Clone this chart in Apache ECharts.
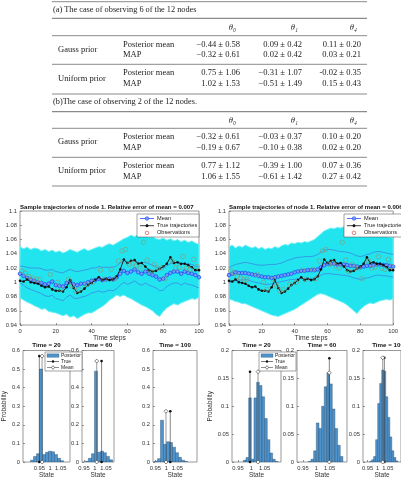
<!DOCTYPE html>
<html><head><meta charset="utf-8">
<script src="https://cdn.jsdelivr.net/npm/echarts@6/dist/echarts.min.js"></script>
<style>html,body{margin:0;padding:0;background:#fff}#c{width:401px;height:480px}</style>
</head><body><div id="c"></div>
<script>
// ---------- table data ----------
const tableA_caption = "(a) The case of observing 6 of the 12 nodes";
const tableB_caption = "(b)The case of observing 2 of the 12 nodes.";
const paramHeaders = ["θ₀", "θ₁", "θ₄"];
const priorNames = ["Gauss prior", "Uniform prior"];
const rowNames = ["Posterior mean", "MAP"];
const tableA_values = [
  ["−0.44 ± 0.58", "0.09 ± 0.42", "0.11 ± 0.20"],
  ["−0.32 ± 0.61", "0.02 ± 0.42", "0.03 ± 0.21"],
  ["0.75 ± 1.06", "−0.31 ± 1.07", "-0.02 ± 0.35"],
  ["1.02 ± 1.53", "−0.51 ± 1.49", "0.15 ± 0.43"]
];
const tableB_values = [
  ["−0.32 ± 0.61", "−0.03 ± 0.37", "0.10 ± 0.20"],
  ["−0.19 ± 0.67", "−0.10 ± 0.38", "0.02 ± 0.20"],
  ["0.77 ± 1.12", "−0.39 ± 1.00", "0.07 ± 0.36"],
  ["1.06 ± 1.55", "−0.61 ± 1.42", "0.27 ± 0.42"]
];

// ---------- trajectory data (time steps 0..100, step 2) ----------
const timeSteps = [0,2,4,6,8,10,12,14,16,18,20,22,24,26,28,30,32,34,36,38,40,42,44,46,48,50,52,54,56,58,60,62,64,66,68,70,72,74,76,78,80,82,84,86,88,90,92,94,96,98,100];
const trueTraj = [1.002,1.001,1.004,1.000,0.999,0.998,0.995,0.993,0.994,0.990,0.988,0.988,0.987,0.993,1.003,0.992,0.985,0.987,0.991,0.996,0.999,1.003,1.007,1.003,1.005,1.003,1.004,1.008,1.018,1.032,1.027,1.030,1.031,1.026,1.027,1.022,1.017,1.015,1.016,1.019,1.022,1.026,1.035,1.027,1.028,1.026,1.026,1.024,1.021,1.017,1.017];
const meanLeft = [1.012,1.009,1.006,1.004,1.002,1.000,0.999,0.997,0.998,1.001,0.996,0.995,0.994,0.999,1.001,0.997,0.996,0.998,0.998,1.000,1.002,1.003,1.005,1.003,1.004,1.005,1.004,1.007,1.012,1.016,1.013,1.015,1.018,1.014,1.012,1.015,1.012,1.010,1.008,1.004,1.005,1.010,1.013,1.015,1.015,1.012,1.015,1.013,1.012,1.010,1.007];
const upperStdLeft = [1.023,1.022,1.021,1.020,1.020,1.020,1.019,1.017,1.017,1.018,1.015,1.014,1.013,1.016,1.018,1.016,1.015,1.016,1.017,1.018,1.020,1.020,1.022,1.021,1.021,1.021,1.021,1.023,1.027,1.030,1.028,1.029,1.031,1.028,1.027,1.028,1.026,1.024,1.022,1.019,1.020,1.023,1.026,1.028,1.027,1.025,1.027,1.026,1.025,1.023,1.021];
const lowerStdLeft = [0.999,0.996,0.992,0.990,0.988,0.986,0.984,0.981,0.980,0.982,0.977,0.976,0.974,0.979,0.982,0.978,0.977,0.979,0.980,0.982,0.985,0.986,0.988,0.986,0.987,0.989,0.988,0.991,0.996,1.000,0.997,0.999,1.002,0.998,0.996,0.999,0.996,0.994,0.992,0.988,0.989,0.994,0.997,0.999,0.999,0.996,0.999,0.997,0.996,0.994,0.992];
const cyanUpperLeft = [1.050,1.047,1.049,1.046,1.048,1.047,1.044,1.046,1.043,1.045,1.042,1.044,1.041,1.043,1.046,1.044,1.042,1.045,1.047,1.044,1.046,1.048,1.050,1.049,1.052,1.054,1.052,1.055,1.058,1.061,1.063,1.066,1.064,1.067,1.065,1.066,1.063,1.064,1.061,1.060,1.062,1.059,1.061,1.058,1.060,1.057,1.059,1.056,1.058,1.055,1.053];
const cyanLowerLeft = [0.978,0.975,0.972,0.970,0.967,0.965,0.962,0.963,0.959,0.958,0.957,0.955,0.953,0.955,0.951,0.953,0.949,0.952,0.955,0.957,0.957,0.960,0.963,0.966,0.970,0.975,0.978,0.982,0.980,0.982,0.979,0.977,0.974,0.971,0.968,0.966,0.963,0.960,0.955,0.952,0.959,0.964,0.967,0.970,0.968,0.971,0.973,0.975,0.977,0.976,0.979];
const meanRight = [1.010,1.012,1.014,1.013,1.013,1.013,1.012,1.011,1.010,1.009,1.008,1.007,1.007,1.006,1.007,1.008,1.009,1.010,1.011,1.012,1.014,1.015,1.016,1.016,1.017,1.017,1.017,1.018,1.021,1.024,1.026,1.026,1.026,1.025,1.025,1.025,1.024,1.023,1.023,1.022,1.021,1.022,1.023,1.023,1.024,1.025,1.025,1.024,1.024,1.023,1.022];
const upperStdRight = [1.021,1.023,1.025,1.026,1.027,1.028,1.027,1.026,1.025,1.024,1.024,1.024,1.025,1.025,1.025,1.026,1.027,1.029,1.031,1.032,1.034,1.035,1.035,1.036,1.036,1.036,1.037,1.039,1.042,1.045,1.046,1.046,1.045,1.044,1.043,1.043,1.042,1.041,1.039,1.037,1.036,1.037,1.039,1.040,1.042,1.043,1.043,1.042,1.041,1.040,1.039];
const lowerStdRight = [0.999,1.001,1.002,1.003,1.003,1.004,1.003,1.001,1.000,0.999,0.998,0.997,0.997,0.998,0.999,1.000,1.001,1.002,1.003,1.004,1.004,1.005,1.005,1.005,1.005,1.005,1.006,1.008,1.010,1.012,1.012,1.012,1.011,1.011,1.010,1.010,1.009,1.008,1.006,1.005,1.004,1.005,1.006,1.007,1.009,1.010,1.010,1.009,1.009,1.008,1.007];
const cyanUpperRight = [1.050,1.052,1.048,1.051,1.049,1.052,1.050,1.048,1.050,1.047,1.049,1.046,1.048,1.047,1.050,1.048,1.051,1.053,1.052,1.055,1.054,1.056,1.055,1.057,1.056,1.058,1.060,1.064,1.068,1.072,1.074,1.076,1.075,1.077,1.076,1.078,1.075,1.074,1.072,1.073,1.070,1.071,1.068,1.069,1.066,1.067,1.065,1.066,1.064,1.063,1.062];
const cyanLowerRight = [0.976,0.975,0.973,0.972,0.970,0.970,0.968,0.966,0.964,0.962,0.960,0.958,0.956,0.954,0.953,0.952,0.954,0.956,0.958,0.960,0.962,0.965,0.968,0.971,0.974,0.977,0.980,0.983,0.984,0.983,0.981,0.979,0.977,0.975,0.973,0.971,0.968,0.964,0.960,0.956,0.962,0.966,0.969,0.971,0.970,0.972,0.974,0.975,0.976,0.975,0.977];
const obsTimes = [1,3,5,7,9,11,17,21,23,27,29,31,33,37,41,45,47,51,53,55,57,59,61,63,65,67,69,71,73,75,77,79,81,85,87,89,91,93,95,97,99];
const obsValues = [1.016,1.013,1.008,1.006,1.004,1.004,1.011,1.000,0.990,1.004,0.995,0.988,0.990,0.997,1.000,1.017,1.004,1.018,1.005,1.030,1.044,1.046,1.025,1.027,1.023,1.020,1.056,1.031,1.015,1.025,1.020,1.020,1.005,1.030,1.020,1.021,1.036,1.020,1.018,1.032,1.022];

// ---------- histogram data (bin centres, probabilities) ----------
const histTitles = ["Time = 20", "Time = 60", "Time = 100"];
const stateTicks = [0.95, 1, 1.05];
// 6 observed nodes
const binsL20 = [0.916,0.930,0.944,0.958,0.972,0.986,1.000,1.014,1.028,1.042,1.056];
const probL20 = [0.010,0.030,0.045,0.500,0.040,0.052,0.058,0.055,0.040,0.020,0.007];
const binsL60 = [0.963,0.977,0.991,1.0046,1.018,1.032,1.045,1.059,1.073];
const probL60 = [0.004,0.020,0.045,0.489,0.052,0.058,0.050,0.030,0.012];
const binsL100 = [0.953,0.967,0.9804,0.994,1.0077,1.0213,1.035,1.0486,1.062,1.076,1.090];
const probL100 = [0.004,0.018,0.225,0.095,0.109,0.105,0.080,0.050,0.025,0.010,0.003];
// 2 observed nodes
const binsR20 = [0.975,0.985,0.995,1.005,1.015,1.025,1.035,1.045,1.055,1.065,1.075,1.085,1.095];
const probR20 = [0.003,0.008,0.115,0.005,0.115,0.143,0.137,0.117,0.078,0.040,0.016,0.005,0.001];
const binsR60 = [0.975,0.985,0.995,1.005,1.015,1.025,1.035,1.045,1.055,1.065,1.075,1.085,1.095];
const probR60 = [0.001,0.005,0.020,0.070,0.060,0.100,0.135,0.160,0.140,0.095,0.060,0.030,0.010];
const binsR100 = [0.965,0.975,0.985,0.995,1.005,1.015,1.025,1.035,1.045,1.055,1.065,1.075,1.085,1.095];
const probR100 = [0.001,0.004,0.010,0.040,0.105,0.141,0.165,0.163,0.117,0.080,0.045,0.020,0.008,0.002];
const binWidthL = [0.014, 0.0136, 0.0136];
const binWidthR = [0.01, 0.01, 0.01];
// [true state, posterior mean, stem height of true, stem height of mean]
const stemsL = [[0.950,0.963,0.57,0.57],[1.030,1.008,0.543,0.543],[1.018,0.9985,0.273,0.273]];
const stemsR = [[0.9951,1.0253,0.162,0.162],[1.049,1.049,0.186,0.160],[1.033,1.025,0.187,0.187]];
// axis ranges of each small panel (auto-limits of the original)
const stateRangeL = [[0.8738,1.0934],[0.941,1.0865],[0.9395,1.1395]];
const stateRangeR = [[0.9274,1.1116],[0.9274,1.1154],[0.9274,1.1154]];

// ---------- build ----------
const chart = echarts.init(document.getElementById('c'), null, {renderer:'canvas'});
const SERIF = '"Liberation Serif","DejaVu Serif",serif';
const SANS = '"Liberation Sans",Arial,sans-serif';
const graphics = [];

function hline(y, x1, x2, w, col){
  graphics.push({type:'line', shape:{x1:x1,y1:y,x2:x2,y2:y}, style:{stroke:col||'#8a8a8a', lineWidth:w||1}, silent:true});
}
function txt(x, y, s, align, size, extra){
  graphics.push({type:'text', x:x, y:y, style:Object.assign({text:s, font: (size||8.5)+'px '+SERIF, fill:'#222', textAlign:align||'left', textVerticalAlign:'middle'}, extra||{}), silent:true});
}
function buildTable(caption, values, capY, hdrY, rowYs, lines){
  txt(53, capY, caption, 'left', 8.3);
  paramHeaders.forEach((h,i)=>txt([240,302,361][i]-4, hdrY, h, 'right', 8.5, {font:'italic 8.5px '+SERIF}));
  txt(58, (rowYs[0]+rowYs[1])/2, priorNames[0]);
  txt(58, (rowYs[2]+rowYs[3])/2, priorNames[1]);
  for (let r=0;r<4;r++){
    txt(123, rowYs[r], rowNames[r%2]);
    values[r].forEach((v,i)=>txt([240,302,361][i], rowYs[r], v, 'right'));
  }
  lines.forEach(l=>hline(l[0],52,367,l[1]));
}
buildTable(tableA_caption, tableA_values, 9.5, 27.7, [44.3,55.2,72.7,84.0], [[1.7,1],[18.3,1.2],[35.7,1],[64.3,1],[94,1.2]]);
buildTable(tableB_caption, tableB_values, 101.5, 120.7, [136.7,147.7,165.3,176.3], [[111.7,1.3],[128.3,1],[157.3,1],[186,1.2]]);

const fmt = v => String(Number(v.toFixed(3)));
const grids = [], xAxes = [], yAxes = [], series = [];
const axisTxt = {fontSize:5.8, color:'#333', fontFamily:SANS};

function addTrajPanel(idx, left, width, mean, up, lo, cu, cl, title, legendX){
  grids.push({left:left, top:211, width:width, height:114, show:true, borderColor:'#555', borderWidth:0.6, backgroundColor:'#fff'});
  xAxes.push({type:'value', gridIndex:idx, min:0, max:100, interval:20, name:'Time steps', nameLocation:'middle', nameGap:10,
    nameTextStyle:{fontSize:6.8, color:'#333', fontFamily:SANS},
    axisLine:{show:false}, axisTick:{inside:true, length:2, lineStyle:{color:'#555', width:0.6}}, splitLine:{show:false},
    axisLabel:Object.assign({margin:3, formatter:fmt}, axisTxt)});
  yAxes.push({type:'value', gridIndex:idx, min:0.94, max:1.1, interval:0.02,
    axisLine:{show:false}, axisTick:{inside:true, length:2, lineStyle:{color:'#555', width:0.6}}, splitLine:{show:false},
    axisLabel:Object.assign({margin:3, formatter:fmt}, axisTxt)});
  const pair = (arr)=>timeSteps.map((t,i)=>[t,arr[i]]);
  series.push({type:'custom', xAxisIndex:idx, yAxisIndex:idx, data:[[0, 0.94]], silent:true, z:1, clip:true,
    renderItem:(params, api)=>{
      const pts = [];
      for (let i=0;i<timeSteps.length;i++) pts.push(api.coord([timeSteps[i], cu[i]]));
      for (let i=timeSteps.length-1;i>=0;i--) pts.push(api.coord([timeSteps[i], cl[i]]));
      return {type:'polygon', shape:{points:pts}, style:{fill:'#22e4ee', stroke:'#6ff0f5', lineWidth:1}};
    }});
  series.push({type:'line', xAxisIndex:idx, yAxisIndex:idx, data:pair(up), symbol:'none', lineStyle:{width:0.7,color:'#3d7be0'}, silent:true, z:3});
  series.push({type:'line', xAxisIndex:idx, yAxisIndex:idx, data:pair(lo), symbol:'none', lineStyle:{width:0.7,color:'#3d7be0'}, silent:true, z:3});
  series.push({type:'line', xAxisIndex:idx, yAxisIndex:idx, data:pair(mean), symbol:'circle', symbolSize:3.6, itemStyle:{color:'#6ea0ff', borderColor:'#2040f0', borderWidth:0.7}, lineStyle:{width:0.9,color:'#2a4cf5'}, silent:true, z:4});
  series.push({type:'line', xAxisIndex:idx, yAxisIndex:idx, data:pair(trueTraj), symbol:'circle', symbolSize:2.6, itemStyle:{color:'#111'}, lineStyle:{width:0.9,color:'#111'}, silent:true, z:5});
  series.push({type:'scatter', xAxisIndex:idx, yAxisIndex:idx, data:obsTimes.map((t,i)=>[t,obsValues[i]]), symbol:'circle', symbolSize:4.5, itemStyle:{color:'rgba(0,0,0,0)', borderColor:'#8a9a78', borderWidth:0.8}, silent:true, z:6});
  graphics.push({type:'text', x:left, y:207, style:{text:title, font:'bold 6.05px '+SANS, fill:'#111', textAlign:'left', textVerticalAlign:'middle'}, silent:true, z:10});
  const lx = legendX, ly = 214;
  graphics.push({type:'rect', shape:{x:lx, y:ly, width:62, height:23}, style:{fill:'#fff', stroke:'#444', lineWidth:0.5}, z:20, silent:true});
  const items = [['Mean','#2a4cf5','mean'],['True trajectories','#111','true'],['Observations','#d33','obs']];
  items.forEach((it,k)=>{
    const y = ly + 4.5 + k*7.2;
    if (it[2] !== 'obs') graphics.push({type:'line', shape:{x1:lx+3,y1:y,x2:lx+17,y2:y}, style:{stroke:it[1], lineWidth:0.8}, z:21, silent:true});
    graphics.push({type:'circle', shape:{cx:lx+10, cy:y, r: it[2]==='true'?1.2:1.8}, style:{fill: it[2]==='mean'?'#6ea0ff':(it[2]==='true'?'#111':'none'), stroke:it[1], lineWidth:0.6}, z:22, silent:true});
    graphics.push({type:'text', x:lx+20, y:y, style:{text:it[0], font:'5.6px '+SANS, fill:'#222', textVerticalAlign:'middle'}, z:22, silent:true});
  });
}
addTrajPanel(0, 20, 179, meanLeft, upperStdLeft, lowerStdLeft, cyanUpperLeft, cyanLowerLeft, 'Sample trajectories of node 1. Relative error of mean = 0.007', 137);
addTrajPanel(1, 229, 180, meanRight, upperStdRight, lowerStdRight, cyanUpperRight, cyanLowerRight, 'Sample trajectories of node 1. Relative error of mean = 0.006', 344);

function addHist(idx, left, width, range, bins, probs, bw, stem, ymax, yint, title, showYName){
  grids.push({left:left, top:350.5, width:width, height:111.5, show:true, borderColor:'#555', borderWidth:0.6});
  xAxes.push({type:'value', gridIndex:idx, min:range[0], max:range[1], name:'State', nameLocation:'middle', nameGap:9,
    nameTextStyle:{fontSize:6.5, color:'#333', fontFamily:SANS},
    axisLine:{show:false}, splitLine:{show:false},
    axisTick:{inside:true, length:2, customValues:stateTicks, lineStyle:{color:'#555', width:0.6}},
    axisLabel:Object.assign({margin:3, customValues:stateTicks, formatter:fmt}, axisTxt)});
  yAxes.push({type:'value', gridIndex:idx, min:0, max:ymax, interval:yint,
    name: showYName ? 'Probability' : '', nameLocation:'middle', nameGap:13, nameRotate:90,
    nameTextStyle:{fontSize:6.5, color:'#333', fontFamily:SANS},
    axisLine:{show:false}, splitLine:{show:false},
    axisTick:{inside:true, length:2, lineStyle:{color:'#555', width:0.6}},
    axisLabel:Object.assign({margin:3, formatter:fmt}, axisTxt)});
  series.push({type:'custom', xAxisIndex:idx, yAxisIndex:idx, data:bins.map((c,i)=>[c,probs[i]]), silent:true, z:2, clip:true,
    renderItem:(params, api)=>{
      const c = api.value(0), h = api.value(1);
      const p0 = api.coord([c-bw/2, 0]), p1 = api.coord([c+bw/2, h]);
      return {type:'rect', shape:{x:p0[0], y:p1[1], width:p1[0]-p0[0], height:p0[1]-p1[1]}, style:{fill:'#4f93cc', stroke:'#244a6a', lineWidth:0.4}};
    }});
  series.push({type:'line', xAxisIndex:idx, yAxisIndex:idx, data:[[stem[0],0],[stem[0],stem[2]]], symbol:'circle', symbolSize:2.6, itemStyle:{color:'#111'}, lineStyle:{width:0.6,color:'#333'}, silent:true, z:5});
  series.push({type:'line', xAxisIndex:idx, yAxisIndex:idx, data:[[stem[1],0],[stem[1],stem[3]]], symbol:'diamond', symbolSize:4, itemStyle:{color:'#fff', borderColor:'#333', borderWidth:0.6}, lineStyle:{width:0.6,color:'#555'}, silent:true, z:5});
  graphics.push({type:'text', x:left+width/2, y:345, style:{text:title, font:'bold 6.2px '+SANS, fill:'#111', textAlign:'center', textVerticalAlign:'middle'}, silent:true, z:10});
}
const leftBoxes = [[23,47],[82,32],[153,44]];
const rightBoxes = [[232,49],[297,50],[363,50]];
const binsLAll = [binsL20,binsL60,binsL100], probLAll = [probL20,probL60,probL100];
const binsRAll = [binsR20,binsR60,binsR100], probRAll = [probR20,probR60,probR100];
for (let i=0;i<3;i++) addHist(2+i, leftBoxes[i][0], leftBoxes[i][1], stateRangeL[i], binsLAll[i], probLAll[i], binWidthL[i], stemsL[i], 0.6, 0.1, histTitles[i], i===0);
for (let i=0;i<3;i++) addHist(5+i, rightBoxes[i][0], rightBoxes[i][1], stateRangeR[i], binsRAll[i], probRAll[i], binWidthR[i], stemsR[i], 0.2, 0.05, histTitles[i], i===0);

function histLegend(x, y){
  graphics.push({type:'rect', shape:{x:x, y:y, width:37, height:19}, style:{fill:'#fff', stroke:'#444', lineWidth:0.5}, z:20, silent:true});
  graphics.push({type:'rect', shape:{x:x+2, y:y+1.8, width:12, height:3.5}, style:{fill:'#4f93cc', stroke:'#244a6a', lineWidth:0.3}, z:21, silent:true});
  graphics.push({type:'line', shape:{x1:x+2,y1:y+9.5,x2:x+14,y2:y+9.5}, style:{stroke:'#222', lineWidth:0.6}, z:21, silent:true});
  graphics.push({type:'circle', shape:{cx:x+8, cy:y+9.5, r:1.2}, style:{fill:'#111'}, z:22, silent:true});
  graphics.push({type:'line', shape:{x1:x+2,y1:y+15.5,x2:x+14,y2:y+15.5}, style:{stroke:'#444', lineWidth:0.6}, z:21, silent:true});
  graphics.push({type:'polygon', shape:{points:[[x+8,y+13.6],[x+9.6,y+15.5],[x+8,y+17.4],[x+6.4,y+15.5]]}, style:{fill:'#fff', stroke:'#333', lineWidth:0.6}, z:22, silent:true});
  [['Posterior',3.6],['True',9.5],['Mean',15.5]].forEach(a=>graphics.push({type:'text', x:x+16, y:y+a[1], style:{text:a[0], font:'5px '+SANS, fill:'#222', textVerticalAlign:'middle'}, z:22, silent:true}));
}
histLegend(45, 352);
histLegend(259, 352);

chart.setOption({
  animation:false, backgroundColor:'#fff',
  grid:grids, xAxis:xAxes, yAxis:yAxes, series:series, graphic:graphics
});
</script></body></html>
